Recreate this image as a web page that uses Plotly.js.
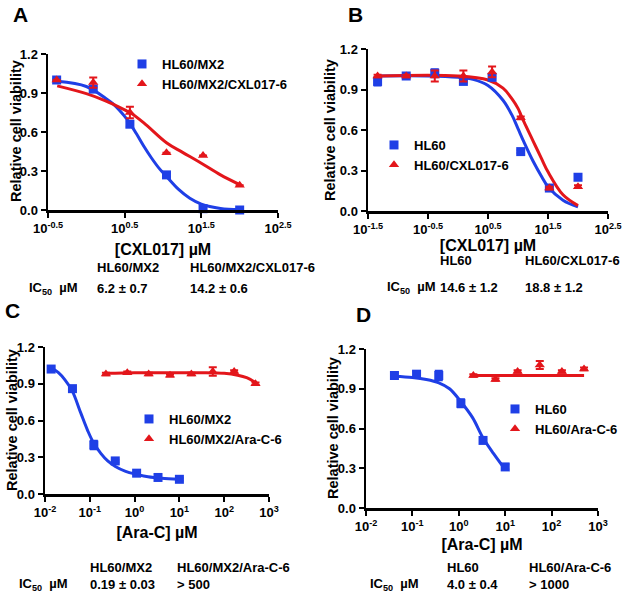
<!DOCTYPE html>
<html>
<head>
<meta charset="utf-8">
<script src="https://cdn.plot.ly/plotly-3.0.1.min.js"></script>
<style>html,body{margin:0;padding:0;background:#fff;}#chart{width:629px;height:597px;}</style>
</head>
<body>
<div id="chart"></div>
<script>
// ---------- DATA ----------
// Panel A  (CXL017, µM)
const A_conc = [0.41, 1.23, 3.7, 11.1, 33.3, 100];
const A_mx2 = [1.0, 0.93, 0.66, 0.27, 0.01, 0.0];
const A_mx2_err = [0.01, 0.02, 0.02, 0.015, 0.01, 0.01];
const A_cxl = [1.0, 0.98, 0.75, 0.44, 0.42, 0.19];
const A_cxl_err = [0.0, 0.04, 0.045, 0.0, 0.0, 0.0];
const A_mx2_fitLog = [-0.38, 0, 0.25, 0.36, 0.5, 0.57, 0.65, 0.75, 0.85, 0.95, 1.05, 1.2, 1.35, 1.5, 1.75, 2.0];
const A_mx2_fit = [0.99, 0.95, 0.86, 0.81, 0.72, 0.665, 0.59, 0.49, 0.40, 0.32, 0.255, 0.16, 0.09, 0.045, 0.012, 0.003];
const A_cxl_fitLog = [-0.38, 0, 0.25, 0.36, 0.5, 0.57, 0.75, 1.05, 1.25, 1.5, 1.75, 2.0];
const A_cxl_fit = [0.955, 0.895, 0.84, 0.81, 0.77, 0.75, 0.67, 0.515, 0.445, 0.36, 0.27, 0.195];

// Panel B
const B_conc = [0.0457, 0.137, 0.41, 1.23, 3.7, 11.1, 33.3, 100];
const B_hl60 = [0.96, 1.0, 1.02, 0.96, 0.99, 0.44, 0.17, 0.25];
const B_hl60_err = [0.03, 0.01, 0.03, 0.01, 0.01, 0.01, 0.01, 0.01];
const B_cxl = [1.0, 1.0, 1.0, 1.0, 1.03, 0.69, 0.17, 0.18];
const B_cxl_err = [0.01, 0.01, 0.04, 0.04, 0.04, 0.01, 0.01, 0.01];
const B_hl60_fitLog = [-1.34, -0.5, 0, 0.25, 0.5, 0.75, 0.9, 1.0, 1.1, 1.25, 1.4, 1.5, 1.75, 2.0];
const B_hl60_fit = [1.0, 1.0, 0.99, 0.975, 0.93, 0.82, 0.71, 0.61, 0.51, 0.37, 0.25, 0.18, 0.08, 0.03];
const B_cxl_fitLog = [-1.34, 0, 0.5, 0.75, 0.9, 1.0, 1.05, 1.1, 1.25, 1.4, 1.5, 1.75, 2.0];
const B_cxl_fit = [1.0, 1.0, 0.97, 0.91, 0.83, 0.76, 0.71, 0.66, 0.52, 0.38, 0.29, 0.12, 0.04];

// Panel C  (Ara-C, µM)
const C_mx2_conc = [0.0137, 0.041, 0.123, 0.37, 1.11, 3.33, 10];
const C_mx2 = [1.02, 0.86, 0.40, 0.27, 0.17, 0.135, 0.12];
const C_mx2_err = [0.02, 0.01, 0.035, 0.01, 0.01, 0.01, 0.01];
const C_ara_conc = [0.229, 0.686, 2.06, 6.17, 18.5, 55.6, 166.7, 500];
const C_ara = [0.98, 0.99, 0.98, 0.97, 0.98, 1.0, 1.0, 0.9];
const C_ara_err = [0.01, 0.01, 0.01, 0.01, 0.01, 0.035, 0.01, 0.01];
const C_mx2_fitLog = [-1.86, -1.7, -1.55, -1.39, -1.2, -1.05, -0.92, -0.75, -0.6, -0.43, -0.2, 0.05, 0.3, 0.6, 1.0];
const C_mx2_fit = [1.03, 0.99, 0.93, 0.84, 0.66, 0.52, 0.42, 0.33, 0.27, 0.225, 0.185, 0.16, 0.14, 0.128, 0.12];
const C_ara_fitLog = [-0.64, 0, 0.5, 1.0, 1.5, 2.0, 2.3, 2.5, 2.7];
const C_ara_fit = [0.985, 0.99, 0.99, 0.99, 0.99, 0.985, 0.97, 0.95, 0.91];

// Panel D
const D_hl60_conc = [0.041, 0.123, 0.37, 1.11, 3.33, 10];
const D_hl60 = [1.0, 1.01, 1.0, 0.79, 0.51, 0.31];
const D_hl60_err = [0.02, 0.02, 0.035, 0.03, 0.01, 0.02];
const D_ara_conc = [2.06, 6.17, 18.5, 55.6, 166.7, 500];
const D_ara = [1.0, 0.97, 1.03, 1.08, 1.03, 1.05];
const D_ara_err = [0.01, 0.01, 0.01, 0.03, 0.01, 0.01];
const D_hl60_fitLog = [-1.39, -1.0, -0.7, -0.43, -0.2, 0.05, 0.3, 0.52, 0.75, 1.0];
const D_hl60_fit = [0.995, 0.985, 0.97, 0.945, 0.9, 0.8, 0.68, 0.53, 0.41, 0.29];
const D_ara_fitLog = [0.31, 2.7];
const D_ara_fit = [1.0, 1.0];

// Tick labels
const yTickVals = [0, 0.3, 0.6, 0.9, 1.2];
const yTickText = ['0.0', '0.3', '0.6', '0.9', '1.2'];
const A_xTickExp = ['-0.5', '0.5', '1.5', '2.5'];
const B_xTickExp = ['-1.5', '-0.5', '0.5', '1.5', '2.5'];
const CD_xTickExp = ['-2', '-1', '0', '1', '2', '3'];

// ---------- STYLE ----------
const BLUE = '#1f3fe6';
const RED = '#e3161b';
const FONT = 'Liberation Sans, Arial, sans-serif';
const W = 629, H = 597;
const pl = (v) => Math.pow(10, v);

function pts(x, y, err, color, symbol, name, xa, ya, legend) {
  return {
    x: x, y: y, type: 'scatter', mode: 'markers', name: name,
    xaxis: xa, yaxis: ya, legend: legend, cliponaxis: false,
    marker: {color: color, symbol: symbol, size: 9},
    error_y: {type: 'data', array: err, visible: true, color: color, thickness: 2, width: 4}
  };
}
function fit(logs, y, color, xa, ya) {
  return {
    x: logs.map(pl), y: y, type: 'scatter', mode: 'lines', showlegend: false,
    xaxis: xa, yaxis: ya, cliponaxis: false, hoverinfo: 'skip',
    line: {color: color, width: 3, shape: 'spline', smoothing: 1}
  };
}

const data = [
  fit(A_mx2_fitLog, A_mx2_fit, BLUE, 'x', 'y'),
  fit(A_cxl_fitLog, A_cxl_fit, RED, 'x', 'y'),
  pts(A_conc, A_mx2, A_mx2_err, BLUE, 'square', 'HL60/MX2', 'x', 'y', 'legend'),
  pts(A_conc, A_cxl, A_cxl_err, RED, 'triangle-up', 'HL60/MX2/CXL017-6', 'x', 'y', 'legend'),

  fit(B_hl60_fitLog, B_hl60_fit, BLUE, 'x2', 'y2'),
  fit(B_cxl_fitLog, B_cxl_fit, RED, 'x2', 'y2'),
  pts(B_conc, B_hl60, B_hl60_err, BLUE, 'square', 'HL60', 'x2', 'y2', 'legend2'),
  pts(B_conc, B_cxl, B_cxl_err, RED, 'triangle-up', 'HL60/CXL017-6', 'x2', 'y2', 'legend2'),

  fit(C_mx2_fitLog, C_mx2_fit, BLUE, 'x3', 'y3'),
  fit(C_ara_fitLog, C_ara_fit, RED, 'x3', 'y3'),
  pts(C_mx2_conc, C_mx2, C_mx2_err, BLUE, 'square', 'HL60/MX2', 'x3', 'y3', 'legend3'),
  pts(C_ara_conc, C_ara, C_ara_err, RED, 'triangle-up', 'HL60/MX2/Ara-C-6', 'x3', 'y3', 'legend3'),

  fit(D_hl60_fitLog, D_hl60_fit, BLUE, 'x4', 'y4'),
  fit(D_ara_fitLog, D_ara_fit, RED, 'x4', 'y4'),
  pts(D_hl60_conc, D_hl60, D_hl60_err, BLUE, 'square', 'HL60', 'x4', 'y4', 'legend4'),
  pts(D_ara_conc, D_ara, D_ara_err, RED, 'triangle-up', 'HL60/Ara-C-6', 'x4', 'y4', 'legend4')
];

const tickFont = {family: FONT, size: 13, color: '#000', weight: 'bold'};
const axBase = {
  showline: true, linecolor: '#000', linewidth: 2.5, showgrid: false, zeroline: false,
  ticks: 'outside', ticklen: 5, tickwidth: 2, tickcolor: '#000', tickfont: tickFont, fixedrange: true
};
function xAxis(domain, exps, title, standoff, anchor) {
  const vals = exps.map(e => pl(parseFloat(e)));
  return Object.assign({}, axBase, {
    type: 'log', domain: domain, anchor: anchor,
    range: [parseFloat(exps[0]), parseFloat(exps[exps.length - 1])],
    tickmode: 'array', tickvals: vals, ticktext: exps.map(e => '10<sup>' + e + '</sup>'),
    title: {text: title, font: {family: FONT, size: 16, color: '#000', weight: 'bold'}, standoff: standoff}
  });
}
function yAxis(domain, anchor) {
  return Object.assign({}, axBase, {
    domain: domain, anchor: anchor, range: [0, 1.2],
    tickmode: 'array', tickvals: yTickVals, ticktext: yTickText
  });
}
const dx = (a, b) => [a / W, b / W];
const dy = (top, bottom) => [1 - bottom / H, 1 - top / H];

const legFont = {family: FONT, size: 13, color: '#000', weight: 'bold'};
function leg(px, py) {
  return {x: px / W, y: 1 - py / H, xanchor: 'left', yanchor: 'top', font: legFont,
    bgcolor: 'rgba(0,0,0,0)', borderwidth: 0, tracegroupgap: 0, itemwidth: 30};
}

const annFont = {family: FONT, size: 13, color: '#000', weight: 'bold'};
function txt(text, px, py, size) {
  return {text: text, x: px / W, y: 1 - py / H, xref: 'paper', yref: 'paper',
    xanchor: 'left', yanchor: 'middle', showarrow: false,
    font: size ? {family: FONT, size: size, color: '#000', weight: 'bold'} : annFont};
}
function ytitle(px, py) {
  return {text: 'Relative cell viability', x: px / W, y: 1 - py / H, xref: 'paper', yref: 'paper',
    xanchor: 'center', yanchor: 'middle', showarrow: false, textangle: -90,
    font: {family: FONT, size: 14.5, color: '#000', weight: 'bold'}};
}
const IC = 'IC<sub>50</sub>  µM';
const annotations = [
  txt('A', 11, 15, 21), txt('B', 346, 15, 21), txt('C', 3, 310, 21), txt('D', 354, 314, 21),
  ytitle(16, 131), ytitle(330, 130), ytitle(12, 420), ytitle(333, 428),
  txt('HL60/MX2', 95, 267), txt('HL60/MX2/CXL017-6', 188, 267),
  txt(IC, 27, 288), txt('6.2 ± 0.7', 95, 288), txt('14.2 ± 0.6', 188, 288),
  txt('HL60', 438, 260), txt('HL60/CXL017-6', 523, 260),
  txt(IC, 385, 287), txt('14.6 ± 1.2', 438, 287), txt('18.8 ± 1.2', 523, 287),
  txt('HL60/MX2', 88, 567), txt('HL60/MX2/Ara-C-6', 175, 567),
  txt(IC, 17, 584), txt('0.19 ± 0.03', 88, 584), txt('> 500', 175, 584),
  txt('HL60', 445, 567), txt('HL60/Ara-C-6', 527, 567),
  txt(IC, 368, 584), txt('4.0 ± 0.4', 445, 584), txt('> 1000', 527, 584)
];

const layout = {
  width: W, height: H, margin: {l: 0, r: 0, t: 0, b: 0},
  paper_bgcolor: '#fff', plot_bgcolor: '#fff',
  font: {family: FONT, color: '#000'},
  xaxis: xAxis(dx(48, 278), A_xTickExp, '[CXL017] µM', 9, 'y'),
  yaxis: yAxis(dy(54, 210), 'x'),
  xaxis2: xAxis(dx(368, 608), B_xTickExp, '[CXL017] µM', 1, 'y2'),
  yaxis2: yAxis(dy(49, 211), 'x2'),
  xaxis3: xAxis(dx(45, 269), CD_xTickExp, '[Ara-C] µM', 8, 'y3'),
  yaxis3: yAxis(dy(347, 494), 'x3'),
  xaxis4: xAxis(dx(366, 598), CD_xTickExp, '[Ara-C] µM', 6, 'y4'),
  yaxis4: yAxis(dy(349, 508), 'x4'),
  legend: leg(122, 49),
  legend2: leg(374, 130),
  legend3: leg(129, 404),
  legend4: leg(495, 394),
  annotations: annotations,
  showlegend: true
};

Plotly.newPlot('chart', data, layout, {displayModeBar: false, staticPlot: true});
</script>
</body>
</html>
